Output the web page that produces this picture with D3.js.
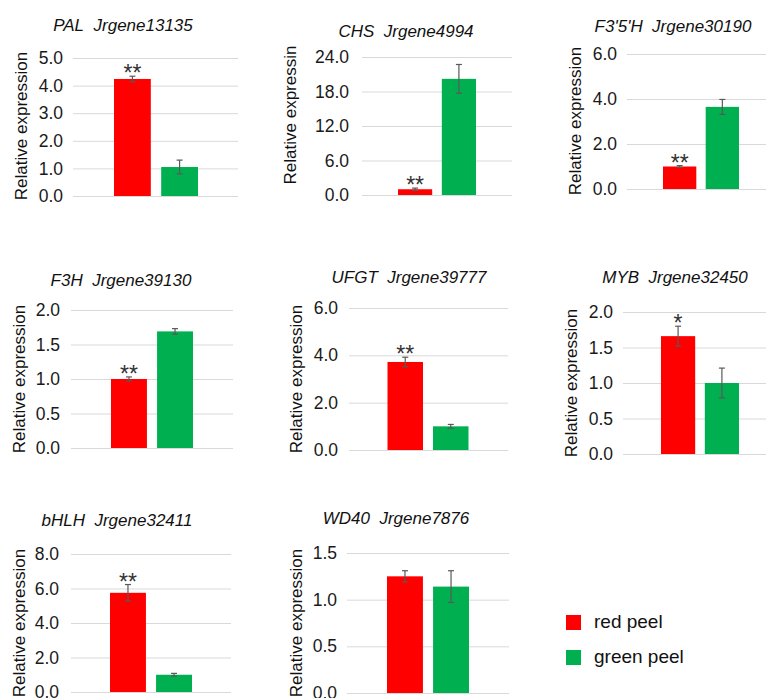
<!DOCTYPE html>
<html>
<head>
<meta charset="utf-8">
<script src="https://cdn.jsdelivr.net/npm/d3@7"></script>
<style>
  body { margin: 0; background: #fff; }
  svg { display: block; font-family: "Liberation Sans", Arial, sans-serif; }
</style>
</head>
<body>
<div id="chart"></div>
<script>
// data
const genes = ["PAL", "CHS", "F3'5'H", "F3H", "UFGT", "MYB", "bHLH", "WD40"];
const geneIds = ["Jrgene13135", "Jrgene4994", "Jrgene30190", "Jrgene39130",
  "Jrgene39777", "Jrgene32450", "Jrgene32411", "Jrgene7876"];
const redPeel = [4.24, 1.0, 1.0, 1.0, 3.72, 1.66, 5.75, 1.25];
const redErr = [0.1, 0.2, 0.04, 0.03, 0.2, 0.14, 0.48, 0.06];
const greenPeel = [1.05, 20.2, 3.65, 1.69, 1.0, 1.0, 1.0, 1.14];
const greenErr = [0.25, 2.5, 0.33, 0.04, 0.08, 0.21, 0.08, 0.17];
const signif = ["**", "**", "**", "**", "**", "*", "**", ""];
const yMax = [5, 24, 6, 2, 6, 2, 8, 1.5];
const yStep = [1, 6, 2, 0.5, 2, 0.5, 2, 0.5];
const yTitles = ["Relative expression", "Relative expressin", "Relative expression",
  "Relative expression", "Relative expression", "Relative expression",
  "Relative expression", "Relative expression"];
const series = ["red peel", "green peel"];

// where each small panel sits on the page
const layout = [
  { x0: 73, x1: 238, top: 58, bot: 196, cx: 156, gw: 84, tx: 123, ty: 31, ytx: 27, yty: 126, pad: 10 },
  { x0: 362, x1: 512, top: 57, bot: 195, cx: 437, gw: 78, tx: 406, ty: 37, ytx: 296, yty: 115, pad: 13 },
  { x0: 627, x1: 775, top: 54, bot: 189, cx: 701, gw: 76, tx: 673, ty: 32, ytx: 581, yty: 121, pad: 10 },
  { x0: 71, x1: 233, top: 310, bot: 448, cx: 152, gw: 82, tx: 121, ty: 286, ytx: 25, yty: 379, pad: 11 },
  { x0: 349, x1: 508, top: 308, bot: 450, cx: 428, gw: 81, tx: 409, ty: 283, ytx: 302, yty: 379, pad: 11 },
  { x0: 623, x1: 777, top: 312, bot: 454, cx: 700, gw: 78, tx: 675, ty: 283, ytx: 577, yty: 383, pad: 10 },
  { x0: 71, x1: 231, top: 554, bot: 692, cx: 151, gw: 82, tx: 117, ty: 526, ytx: 25, yty: 623, pad: 12 },
  { x0: 347, x1: 509, top: 553, bot: 693, cx: 428, gw: 82, tx: 396, ty: 524, ytx: 302, yty: 623, pad: 10 },
];

const width = 766, height = 698;
const color = d3.scaleOrdinal().domain(series).range(["#ff0000", "#00b050"]);

const svg = d3
  .select("#chart")
  .append("svg")
  .attr("width", width)
  .attr("height", height);

genes.forEach((gene, i) => {
  const L = layout[i];
  const g = svg.append("g");

  const y = d3.scaleLinear().domain([0, yMax[i]]).range([L.bot, L.top]);
  const x = d3
    .scaleBand()
    .domain(series)
    .range([L.cx - L.gw / 2, L.cx + L.gw / 2])
    .paddingInner(0.22);

  // y axis with grid lines
  const ticks = d3.range(0, yMax[i] + yStep[i] / 2, yStep[i]);
  const axis = g
    .append("g")
    .attr("transform", `translate(${L.x0},0)`)
    .call(
      d3.axisLeft(y)
        .tickValues(ticks)
        .tickFormat(d3.format(".1f"))
        .tickSize(-(L.x1 - L.x0))
        .tickPadding(L.pad)
    );
  axis.select(".domain").remove();
  axis.selectAll(".tick line").attr("stroke", "#d9d9d9").attr("stroke-width", 1);
  axis.selectAll(".tick text")
    .attr("fill", "#1a1a1a")
    .style("font-size", "17.5px")
    .style("font-family", "'Liberation Sans', Arial, sans-serif");

  // bars
  const vals = [
    { key: series[0], v: redPeel[i], e: redErr[i] },
    { key: series[1], v: greenPeel[i], e: greenErr[i] },
  ];
  g.selectAll("rect.bar")
    .data(vals)
    .join("rect")
    .attr("class", "bar")
    .attr("x", (d) => x(d.key))
    .attr("width", x.bandwidth())
    .attr("y", (d) => y(d.v))
    .attr("height", (d) => y(0) - y(d.v))
    .attr("fill", (d) => color(d.key));

  // error bars
  vals.forEach((d) => {
    const c = x(d.key) + x.bandwidth() / 2;
    const eg = g.append("g").attr("stroke", "#595959").attr("stroke-width", 1.2);
    eg.append("line").attr("x1", c).attr("x2", c).attr("y1", y(d.v + d.e)).attr("y2", y(d.v - d.e));
    eg.append("line").attr("x1", c - 3).attr("x2", c + 3).attr("y1", y(d.v + d.e)).attr("y2", y(d.v + d.e));
    eg.append("line").attr("x1", c - 3).attr("x2", c + 3).attr("y1", y(d.v - d.e)).attr("y2", y(d.v - d.e));
  });

  // significance stars over the red bar
  if (signif[i]) {
    g.append("text")
      .attr("x", x(series[0]) + x.bandwidth() / 2)
      .attr("y", y(redPeel[i] + redErr[i]) + 5)
      .attr("text-anchor", "middle")
      .attr("fill", "#333")
      .style("font-size", "23px")
      .text(signif[i]);
  }

  // panel title
  g.append("text")
    .attr("x", L.tx)
    .attr("y", L.ty)
    .attr("text-anchor", "middle")
    .attr("fill", "#111")
    .style("font-size", "17px")
    .style("font-style", "italic")
    .text(gene + "\u00a0\u00a0" + geneIds[i]);

  // y axis title
  g.append("text")
    .attr("transform", `translate(${L.ytx},${L.yty}) rotate(-90)`)
    .attr("text-anchor", "middle")
    .attr("fill", "#111")
    .style("font-size", "17px")
    .text(yTitles[i]);
});

// legend
const legend = svg.append("g").attr("transform", "translate(566,615)");
series.forEach((s, i) => {
  legend.append("rect")
    .attr("x", 0)
    .attr("y", i * 35)
    .attr("width", 15)
    .attr("height", 15)
    .attr("fill", color(s));
  legend.append("text")
    .attr("x", 28)
    .attr("y", i * 35 + 13)
    .attr("fill", "#111")
    .style("font-size", "19px")
    .text(s);
});
</script>
</body>
</html>
